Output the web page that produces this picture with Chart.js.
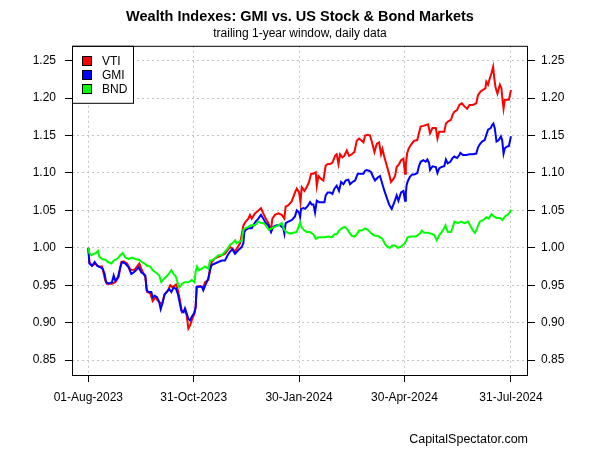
<!DOCTYPE html>
<html>
<head>
<meta charset="utf-8">
<script src="https://cdn.jsdelivr.net/npm/chart.js@4.4.1/dist/chart.umd.min.js"></script>
<style>
    html, body { margin: 0; padding: 0; background: #ffffff; }
    #wrap { width: 600px; height: 450px; }
</style>
</head>
<body>
<div id="wrap"><canvas id="wealthChart" width="600" height="450"></canvas></div>
<script>
Chart.defaults.font.family = '"Liberation Sans", Arial, sans-serif';
Chart.defaults.font.size = 12;
Chart.defaults.color = '#000000';

// days since 01-Aug-2023
const vtiDays = [
    0, 0.9, 3.2, 6.0, 8.9, 11.8, 14.7, 16.1, 20.4, 23.3, 26.2, 28.5, 30.5, 33.4, 36.3, 38.3, 40.6, 44.0, 46.3, 49.2,
    50.7, 53.5, 55.6, 57.9, 61.3, 63.6, 65.9, 68.8, 70.8, 72.8, 75.7, 77.4, 79.2, 80.9, 83.5, 84.9, 86.4, 87.8, 89.3, 91.6,
    92.7, 93.6, 96.5, 99.3, 100.8, 103.6, 105.1, 106.5, 109.4, 112.3, 115.2, 118.0, 120.3, 122.4, 124.4, 126.7, 129.0, 131.0, 132.4, 133.9,
    135.9, 138.2, 139.6, 141.1, 143.9, 146.8, 149.1, 151.1, 153.2, 155.5, 157.8, 158.9, 161.2, 164.1, 167.0, 169.3, 170.4, 172.7, 175.6, 178.5,
    180.0, 182.0, 183.2, 184.3, 186.6, 188.6, 190.6, 192.4, 194.4, 196.4, 197.3, 198.7, 201.0, 203.0, 205.0, 206.8, 208.8, 210.8, 213.1, 214.5,
    216.0, 217.4, 219.4, 221.1, 223.2, 225.2, 227.5, 229.8, 231.8, 233.8, 236.1, 237.6, 239.0, 241.3, 243.3, 245.3, 247.1, 249.1, 251.1, 252.8,
    254.0, 255.7, 257.7, 259.7, 261.4, 263.5, 264.9, 266.3, 268.4, 270.1, 272.1, 273.5, 274.2, 275.3, 276.8, 278.8, 281.2, 284.1, 285.5, 287.0,
    289.3, 291.3, 293.4, 295.1, 297.2, 300.1, 301.5, 303.0, 305.0, 307.4, 308.8, 310.8, 313.2, 314.6, 316.1, 318.4, 320.4, 322.5, 324.8, 327.1,
    329.2, 332.1, 335.0, 336.5, 338.8, 340.8, 342.9, 343.7, 345.2, 346.6, 348.1, 349.6, 350.4, 351.6, 353.3, 355.4, 356.8, 357.4, 358.6, 359.7,
    361.2, 363.2, 365.0
];
const vtiValues = [
    1.000, 0.981, 0.976, 0.979, 0.975, 0.975, 0.956, 0.952, 0.952, 0.954, 0.961, 0.981, 0.982, 0.979, 0.971, 0.970, 0.972, 0.979, 0.970, 0.961,
    0.941, 0.939, 0.929, 0.934, 0.927, 0.925, 0.938, 0.943, 0.950, 0.947, 0.951, 0.943, 0.929, 0.914, 0.917, 0.910, 0.892, 0.896, 0.903, 0.912,
    0.921, 0.948, 0.949, 0.947, 0.954, 0.957, 0.972, 0.981, 0.986, 0.988, 0.990, 0.992, 0.997, 1.001, 0.999, 0.995, 1.001, 1.006, 1.017, 1.030,
    1.035, 1.039, 1.044, 1.039, 1.046, 1.050, 1.053, 1.046, 1.039, 1.033, 1.024, 1.039, 1.044, 1.046, 1.044, 1.039, 1.055, 1.057, 1.062, 1.074,
    1.079, 1.074, 1.061, 1.081, 1.076, 1.081, 1.088, 1.099, 1.099, 1.101, 1.083, 1.096, 1.092, 1.090, 1.110, 1.112, 1.112, 1.114, 1.123, 1.125,
    1.112, 1.125, 1.121, 1.123, 1.130, 1.123, 1.125, 1.128, 1.143, 1.146, 1.143, 1.141, 1.150, 1.151, 1.150, 1.139, 1.128, 1.139, 1.141, 1.125,
    1.132, 1.121, 1.110, 1.099, 1.088, 1.092, 1.096, 1.108, 1.112, 1.117, 1.119, 1.099, 1.111, 1.126, 1.133, 1.138, 1.143, 1.144, 1.153, 1.162,
    1.163, 1.164, 1.165, 1.153, 1.160, 1.160, 1.146, 1.155, 1.155, 1.155, 1.166, 1.169, 1.171, 1.178, 1.182, 1.184, 1.191, 1.193, 1.189, 1.186,
    1.191, 1.191, 1.193, 1.204, 1.209, 1.211, 1.213, 1.222, 1.218, 1.226, 1.233, 1.242, 1.229, 1.215, 1.206, 1.218, 1.213, 1.202, 1.186, 1.198,
    1.198, 1.198, 1.211
];

const gmiDays = [
    0, 0.9, 3.2, 5.5, 7.5, 10.4, 12.4, 14.1, 15.3, 17.6, 20.4, 21.9, 23.3, 25.6, 27.6, 29.1, 32.0, 34.8, 37.1, 39.1,
    41.2, 43.5, 45.8, 47.8, 49.2, 50.4, 52.1, 54.4, 55.6, 57.3, 59.3, 61.3, 62.5, 64.2, 65.9, 67.9, 69.9, 71.7, 73.7, 75.7,
    77.4, 78.6, 80.3, 82.3, 83.5, 86.4, 87.8, 89.3, 91.6, 92.7, 93.6, 95.0, 97.9, 99.3, 100.8, 102.2, 103.6, 105.1, 106.5, 109.4,
    112.3, 115.2, 118.0, 120.3, 122.4, 124.4, 126.7, 129.6, 132.4, 133.9, 134.7, 135.9, 138.2, 141.1, 142.5, 144.5, 146.8, 149.1, 151.1, 153.2,
    155.5, 157.8, 159.8, 162.7, 165.5, 168.4, 169.3, 170.4, 172.7, 175.6, 178.5, 180.0, 182.0, 182.9, 183.7, 185.7, 187.2, 189.5, 191.5, 192.9,
    194.4, 195.8, 197.3, 199.3, 201.6, 203.9, 205.0, 206.8, 208.8, 210.8, 212.5, 214.5, 216.5, 218.3, 220.3, 222.3, 224.6, 226.0, 228.1, 230.4,
    232.7, 234.7, 237.6, 239.0, 240.4, 242.4, 244.2, 246.2, 247.6, 249.9, 251.9, 254.0, 255.7, 257.7, 259.7, 262.0, 264.3, 266.3, 267.8, 270.1,
    272.1, 273.5, 274.2, 274.9, 275.9, 277.7, 279.7, 281.7, 284.1, 285.5, 287.0, 289.3, 291.3, 292.8, 294.3, 295.1, 297.2, 300.1, 301.5, 303.0,
    305.0, 307.4, 308.8, 310.3, 312.6, 314.6, 316.1, 318.4, 320.4, 321.3, 323.4, 326.3, 329.2, 332.1, 335.0, 336.5, 337.9, 340.0, 342.3, 343.7,
    345.2, 347.5, 348.7, 349.8, 351.0, 352.5, 354.5, 356.3, 357.4, 358.6, 359.7, 361.2, 363.2, 365.0
];
const gmiValues = [
    1.000, 0.979, 0.976, 0.981, 0.976, 0.974, 0.972, 0.965, 0.954, 0.952, 0.954, 0.963, 0.956, 0.961, 0.974, 0.981, 0.979, 0.974, 0.965, 0.967,
    0.970, 0.974, 0.967, 0.965, 0.963, 0.943, 0.941, 0.941, 0.934, 0.936, 0.934, 0.927, 0.918, 0.927, 0.938, 0.941, 0.945, 0.941, 0.947, 0.945,
    0.938, 0.929, 0.916, 0.914, 0.919, 0.905, 0.903, 0.908, 0.913, 0.921, 0.948, 0.948, 0.948, 0.943, 0.949, 0.954, 0.959, 0.970, 0.977, 0.979,
    0.981, 0.983, 0.983, 0.990, 0.995, 0.998, 0.992, 0.997, 1.001, 1.006, 1.021, 1.024, 1.026, 1.026, 1.030, 1.035, 1.039, 1.044, 1.039, 1.033,
    1.030, 1.021, 1.028, 1.030, 1.030, 1.026, 1.019, 1.033, 1.035, 1.037, 1.042, 1.050, 1.047, 1.041, 1.052, 1.053, 1.052, 1.056, 1.061, 1.058,
    1.058, 1.047, 1.063, 1.061, 1.061, 1.061, 1.070, 1.074, 1.074, 1.072, 1.079, 1.083, 1.076, 1.088, 1.085, 1.090, 1.091, 1.085, 1.088, 1.090,
    1.099, 1.099, 1.099, 1.103, 1.104, 1.103, 1.101, 1.094, 1.090, 1.094, 1.096, 1.085, 1.076, 1.067, 1.058, 1.052, 1.061, 1.070, 1.063, 1.074,
    1.076, 1.063, 1.073, 1.084, 1.089, 1.095, 1.098, 1.098, 1.100, 1.109, 1.115, 1.117, 1.115, 1.118, 1.113, 1.104, 1.109, 1.108, 1.100, 1.106,
    1.108, 1.109, 1.118, 1.113, 1.115, 1.120, 1.122, 1.120, 1.124, 1.127, 1.124, 1.124, 1.125, 1.125, 1.126, 1.134, 1.138, 1.142, 1.144, 1.151,
    1.158, 1.160, 1.164, 1.166, 1.160, 1.142, 1.144, 1.149, 1.144, 1.126, 1.133, 1.135, 1.136, 1.149
];

const bndDays = [
    0, 0.9, 2.6, 4.6, 6.6, 8.3, 9.5, 11.8, 14.7, 17.0, 19.9, 21.9, 24.8, 27.6, 29.6, 32.0, 34.8, 37.7, 40.6, 43.5,
    46.3, 48.6, 50.7, 53.5, 55.6, 58.4, 61.3, 63.0, 65.1, 67.1, 69.4, 71.7, 73.7, 75.7, 77.4, 78.6, 80.9, 83.2, 86.4, 89.3,
    91.6, 92.7, 93.9, 95.6, 97.9, 100.8, 103.6, 105.1, 106.5, 109.4, 112.3, 115.2, 118.0, 120.3, 122.4, 124.4, 126.7, 128.1, 130.1, 132.4,
    133.9, 135.3, 138.2, 140.5, 143.9, 146.8, 149.1, 151.1, 153.2, 156.0, 158.3, 161.2, 164.1, 167.0, 169.3, 171.3, 174.2, 177.1, 179.9, 180.8,
    182.9, 184.3, 186.6, 188.6, 191.5, 194.4, 196.4, 198.7, 201.6, 204.5, 207.3, 210.2, 212.5, 214.5, 216.5, 218.8, 221.1, 223.2, 225.2, 227.5,
    229.8, 231.8, 233.8, 236.1, 239.0, 241.3, 243.3, 245.3, 247.6, 249.9, 251.9, 254.0, 256.3, 258.6, 260.6, 262.6, 264.9, 267.2, 269.2, 271.2,
    273.5, 275.6, 278.5, 282.9, 286.3, 288.1, 290.1, 293.0, 295.9, 298.8, 300.9, 303.2, 306.1, 308.4, 310.4, 313.3, 316.2, 319.1, 322.0, 324.9,
    327.8, 329.3, 332.2, 333.9, 335.7, 338.0, 340.9, 343.8, 345.8, 348.2, 350.2, 352.5, 355.4, 357.7, 359.8, 361.8, 363.5, 365.0
];
const bndValues = [
    1.000, 0.993, 0.990, 0.992, 0.993, 0.996, 0.988, 0.985, 0.984, 0.981, 0.979, 0.983, 0.985, 0.990, 0.993, 0.987, 0.985, 0.987, 0.985, 0.984,
    0.981, 0.979, 0.976, 0.975, 0.970, 0.967, 0.963, 0.954, 0.958, 0.961, 0.965, 0.970, 0.965, 0.961, 0.952, 0.947, 0.952, 0.954, 0.954, 0.957,
    0.954, 0.968, 0.975, 0.970, 0.972, 0.975, 0.972, 0.983, 0.983, 0.986, 0.990, 0.990, 0.995, 0.999, 1.004, 1.006, 1.010, 1.006, 1.008, 1.010,
    1.024, 1.026, 1.028, 1.030, 1.030, 1.035, 1.033, 1.033, 1.030, 1.024, 1.026, 1.028, 1.030, 1.033, 1.024, 1.021, 1.019, 1.020, 1.021, 1.025,
    1.034, 1.027, 1.023, 1.021, 1.021, 1.018, 1.012, 1.014, 1.014, 1.014, 1.015, 1.014, 1.018, 1.018, 1.023, 1.026, 1.028, 1.026, 1.021, 1.016,
    1.015, 1.018, 1.023, 1.023, 1.026, 1.024, 1.021, 1.018, 1.016, 1.016, 1.014, 1.012, 1.005, 1.001, 1.000, 1.003, 1.003, 1.000, 1.001, 1.003,
    1.006, 1.014, 1.015, 1.015, 1.019, 1.023, 1.020, 1.020, 1.019, 1.017, 1.010, 1.017, 1.023, 1.030, 1.021, 1.021, 1.035, 1.033, 1.035, 1.033,
    1.035, 1.031, 1.023, 1.020, 1.026, 1.035, 1.037, 1.041, 1.039, 1.045, 1.042, 1.040, 1.040, 1.037, 1.042, 1.044, 1.046, 1.051
];

const xTickDays = [0, 91, 182, 273, 365];
const xTickLabels = ['01-Aug-2023', '31-Oct-2023', '30-Jan-2024', '30-Apr-2024', '31-Jul-2024'];
const yTicks = [0.85, 0.90, 0.95, 1.00, 1.05, 1.10, 1.15, 1.20, 1.25];

const toPoints = (days, values) => days.map((d, i) => ({ x: d, y: values[i] }));

// R-style box around the plot and a framed legend in the top-left corner
const frameAndLegend = {
    id: 'frameAndLegend',
    afterDatasetsDraw(chart) {
        const { ctx, chartArea: a } = chart;
        ctx.save();
        ctx.strokeStyle = '#000000';
        ctx.lineWidth = 1;

        const bx = a.left, by = a.top, bw = 61, bh = 57;
        ctx.fillStyle = '#ffffff';
        ctx.fillRect(bx, by, bw, bh);
        ctx.strokeRect(bx + 0.5, by + 0.5, bw, bh);

        ctx.font = '12px "Liberation Sans", Arial, sans-serif';
        ctx.textBaseline = 'middle';
        chart.data.datasets.forEach((ds, i) => {
            const cy = Math.round(by + 15 + i * 14.2);
            ctx.fillStyle = ds.borderColor;
            ctx.fillRect(bx + 10, cy - 5, 10, 10);
            ctx.strokeRect(bx + 10.5, cy - 4.5, 9, 9);
            ctx.fillStyle = '#000000';
            ctx.fillText(ds.label, bx + 30, cy + 0.5);
        });

        ctx.strokeRect(a.left + 0.5, a.top + 0.5, a.right - a.left - 1, a.bottom - a.top);
        ctx.restore();
    }
};

const yAxis = (position, padding, onArea) => ({
    type: 'linear',
    position: position,
    min: 0.83,
    max: 1.27,
    afterBuildTicks: (axis) => { axis.ticks = yTicks.map(v => ({ value: v })); },
    afterFit: (axis) => { axis.width = 72; },
    ticks: { callback: (v) => v.toFixed(2), padding: padding },
    grid: { drawOnChartArea: onArea, color: '#c4c4c4', tickColor: '#000000', tickLength: 7, tickBorderDash: [] },
    border: { display: false, dash: [2, 3] }
});

new Chart(document.getElementById('wealthChart'), {
    type: 'line',
    data: {
        datasets: [
            {
                label: 'VTI',
                data: toPoints(vtiDays, vtiValues),
                borderColor: '#ff0000',
                backgroundColor: '#ff0000',
                borderWidth: 2,
                pointRadius: 0,
                tension: 0,
                order: 3
            },
            {
                label: 'GMI',
                data: toPoints(gmiDays, gmiValues),
                borderColor: '#0000ff',
                backgroundColor: '#0000ff',
                borderWidth: 2,
                pointRadius: 0,
                tension: 0,
                order: 2
            },
            {
                label: 'BND',
                data: toPoints(bndDays, bndValues),
                borderColor: '#00ff00',
                backgroundColor: '#00ff00',
                borderWidth: 2,
                pointRadius: 0,
                tension: 0,
                order: 1
            }
        ]
    },
    options: {
        responsive: false,
        animation: false,
        devicePixelRatio: 1,
        layout: { padding: 0 },
        plugins: {
            legend: { display: false },
            tooltip: { enabled: false },
            title: {
                display: true,
                text: 'Wealth Indexes: GMI vs. US Stock & Bond Markets',
                font: { size: 14.5, weight: 'bold' },
                padding: { top: 8.7, bottom: 0 }
            },
            subtitle: {
                display: true,
                text: 'trailing 1-year window, daily data',
                font: { size: 12 },
                padding: { top: 0.2, bottom: 5.1 }
            }
        },
        scales: {
            x: {
                type: 'linear',
                min: -14.1,
                max: 379.7,
                afterBuildTicks: (axis) => { axis.ticks = xTickDays.map(v => ({ value: v })); },
                ticks: {
                    callback: (v, i) => xTickLabels[i],
                    padding: 8,
                    maxRotation: 0,
                    autoSkip: false
                },
                grid: { color: '#c4c4c4', tickColor: '#000000', tickLength: 7, tickBorderDash: [] },
                border: { display: false, dash: [2, 3] },
                title: {
                    display: true,
                    text: 'CapitalSpectator.com',
                    align: 'end',
                    font: { size: 12.5 },
                    padding: { top: 20, bottom: 2.6 }
                }
            },
            y: yAxis('left', 9, true),
            y2: yAxis('right', 6, false)
        }
    },
    plugins: [frameAndLegend]
});
</script>
</body>
</html>
